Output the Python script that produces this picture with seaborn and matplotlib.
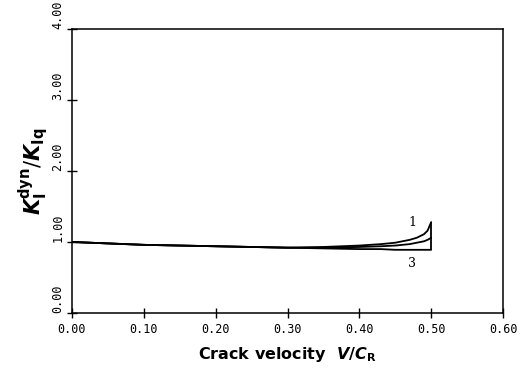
import matplotlib
matplotlib.use("Agg")
import matplotlib.pyplot as plt
import matplotlib.transforms as mtransforms
import numpy as np
import pandas as pd
import seaborn as sns

# Normalised crack velocity V/C_R
velocity = [0.00, 0.05, 0.10, 0.15, 0.20, 0.25, 0.30, 0.35, 0.40,
            0.43, 0.45, 0.47, 0.48, 0.49, 0.495, 0.50]

# Dynamic stress intensity factor ratio K_I^dyn / K_Iq for three cases
curve_1 = [1.00, 0.98, 0.96, 0.95, 0.94, 0.93, 0.92, 0.93, 0.95,
           0.97, 0.99, 1.03, 1.06, 1.11, 1.16, 1.28]
curve_2 = [1.00, 0.98, 0.96, 0.95, 0.94, 0.93, 0.92, 0.92, 0.93,
           0.94, 0.95, 0.97, 0.99, 1.01, 1.03, 1.06]
curve_3 = [1.00, 0.98, 0.96, 0.95, 0.94, 0.93, 0.92, 0.91, 0.90,
           0.90, 0.89, 0.89, 0.89, 0.89, 0.89, 0.89]

curve_names = ["1", "2", "3"]
x_ticks = [0.0, 0.1, 0.2, 0.3, 0.4, 0.5, 0.6]
y_ticks = [0.0, 1.0, 2.0, 3.0, 4.0]
x_tick_labels = ["0.00", "0.10", "0.20", "0.30", "0.40", "0.50", "0.60"]
y_tick_labels = ["0.00", "1.00", "2.00", "3.00", "4.00"]

df = pd.DataFrame({
    "v": velocity * 3,
    "k": curve_1 + curve_2 + curve_3,
    "case": [n for n in curve_names for _ in velocity],
})

sns.set_theme(style="ticks")
plt.rcParams["font.family"] = ["DejaVu Sans"]
plt.rcParams["text.color"] = "black"
plt.rcParams["axes.labelcolor"] = "black"
plt.rcParams["xtick.color"] = "black"
plt.rcParams["ytick.color"] = "black"

fig = plt.figure(figsize=(5.3, 3.75), dpi=100)
ax = fig.add_axes([72 / 530, 62 / 375, 431 / 530, 284 / 375])

sns.lineplot(data=df, x="v", y="k", hue="case", units="case", estimator=None,
             palette=["black"] * 3, linewidth=1.3, legend=False, ax=ax)

# Curves terminate on a common vertical segment at the limiting velocity
ax.vlines(velocity[-1], min(curve_3[-1], curve_2[-1]), curve_1[-1],
          color="black", linewidth=1.3)

ax.set_xlim(0, 0.6)
ax.set_ylim(0, 4)
ax.set_xticks(x_ticks)
ax.set_yticks(y_ticks)

mono = dict(family="DejaVu Sans Mono", size=8.5)
ax.set_xticklabels(x_tick_labels, fontdict=mono)
ax.set_yticklabels(y_tick_labels, fontdict=mono, rotation=90, va="bottom")

shift = mtransforms.ScaledTranslation(6 / 100, 0, fig.dpi_scale_trans)
for lbl in ax.get_xticklabels():
    lbl.set_transform(lbl.get_transform() + shift)

ax.tick_params(axis="both", which="major", direction="inout", length=7,
               width=1.0, color="black", bottom=True, left=True,
               top=False, right=False)
ax.tick_params(axis="x", pad=4)
ax.tick_params(axis="y", pad=2)

for sp in ax.spines.values():
    sp.set_visible(True)
    sp.set_color("black")
    sp.set_linewidth(1.1)

ax.set_xlabel(r"Crack velocity  $\boldsymbol{V/C}_{\mathbf{R}}$",
              fontsize=11.5, fontweight="bold", labelpad=6)
ax.set_ylabel(r"$\boldsymbol{K}_{\mathbf{I}}^{\mathbf{dyn}}/\boldsymbol{K}_{\mathbf{Iq}}$",
              fontsize=15, labelpad=0)

# Curve identifiers
ax.text(0.474, curve_1[-1], curve_names[0], fontsize=9, family="DejaVu Serif",
        ha="center", va="center")
ax.text(0.473, 0.70, curve_names[2], fontsize=9, family="DejaVu Serif",
        ha="center", va="center")

fig.savefig("out.png", dpi=100)
